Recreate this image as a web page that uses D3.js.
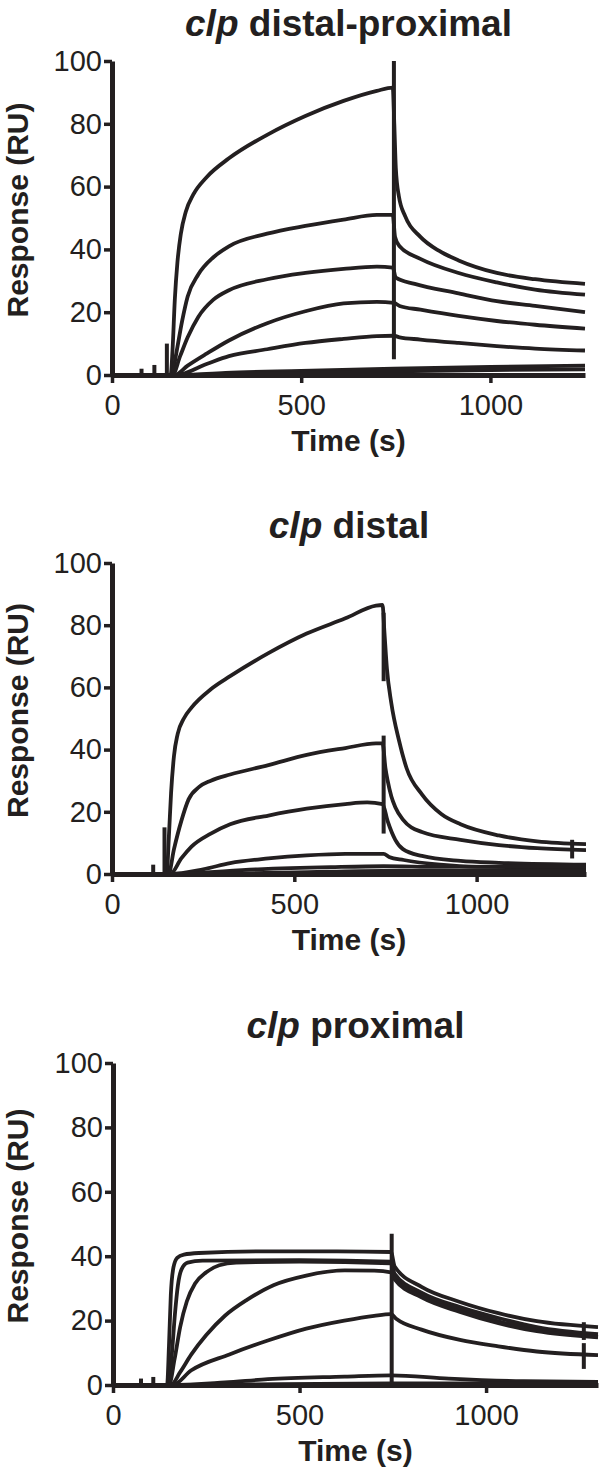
<!DOCTYPE html>
<html>
<head>
<meta charset="utf-8">
<script src="https://cdn.jsdelivr.net/npm/d3@7"></script>
<style>
body { margin: 0; background: #fff; }
svg { display: block; }
text { font-family: "Liberation Sans", Arial, Helvetica, sans-serif; fill: #231f20; }
</style>
</head>
<body>
<script>
// ticks and titles shared by the three panels
var timeTicks = [0, 500, 1000];
var responseTicks = [0, 20, 40, 60, 80, 100];
var panelTitles = ["distal-proximal", "distal", "proximal"];
var timeMax = [1250, 1300, 1300];

// sensorgrams, [time (s), response (RU)]
var distalProximal = [
  [[0,0],[155,0],[160,8],[166,24],[173,36],[182,45],[195,52],[215,57.5],[250,63],[309,69],[410,76.5],[511,82.5],[612,87.3],[700,90.5],[742,91.5],[746,80],[750,66],[758,57],[775,50.5],[815,44],[865,39.5],[916,36.5],[1017,32.5],[1118,30.5],[1250,29]],
  [[0,0],[158,0],[170,7],[185,17],[200,25],[228,32],[268,37.5],[309,41],[410,45],[511,47.5],[612,49.5],[700,51],[742,51],[748,44],[760,41],[815,37],[916,32.5],[1017,29.5],[1118,27.2],[1250,25.6]],
  [[0,0],[160,0],[180,6],[200,12],[228,18.5],[268,24],[309,27],[410,30.5],[511,32.5],[612,33.8],[700,34.5],[742,34.2],[750,31],[800,29],[916,26],[1017,23.5],[1118,22],[1250,20]],
  [[0,0],[165,0],[200,3],[250,6.8],[309,11],[410,16.5],[511,20.3],[612,22.8],[700,23.3],[745,23],[760,22],[815,20.8],[916,18.8],[1017,17.2],[1118,16],[1250,14.8]],
  [[0,0],[170,0],[250,3.5],[309,6],[410,8.2],[511,10.2],[612,11.5],[700,12.4],[745,12.5],[760,12],[815,11.3],[916,10.2],[1017,9.2],[1118,8.4],[1250,7.8]],
  [[0,0],[170,0],[300,0.7],[500,1.3],[745,2],[1000,2.6],[1250,3]],
  [[0,0],[170,0],[500,0.7],[745,1.2],[1000,1.6],[1250,1.8]]
];
// injection artefacts, [time, from, to]
var distalProximalSpikes = [[2,0,3],[78,0,2],[112,0,3.2],[145,0,10],[745,5,100]];

var distal = [
  [[0,0],[150,0],[156,12],[162,26],[170,38],[180,45],[197,50],[218,53.5],[271,59.4],[324,63.6],[429,71],[534,77.3],[640,82.2],[724,86.3],[742,86.5],[747,78],[754,66],[766,55],[787,43],[808,34],[850,25.6],[903,19.3],[956,16],[1061,12.4],[1166,10.5],[1300,9.6]],
  [[0,0],[155,0],[170,8],[190,17],[210,24],[239,28],[271,30],[324,32],[429,35],[534,38.3],[640,40.5],[724,42],[742,42],[750,34],[756,30],[766,25],[777,21.5],[798,17.5],[850,13.5],[956,11],[1061,9.3],[1166,8.3],[1300,7.7]],
  [[0,0],[160,0],[190,5],[218,8.8],[271,13],[324,16],[429,18.8],[534,21],[640,22.5],[700,23],[742,22.5],[756,17],[777,11],[798,8],[850,5.8],[956,4.2],[1061,3.6],[1300,3]],
  [[0,0],[160,0],[250,1.5],[324,3.5],[429,5],[534,6],[640,6.5],[745,6.5],[760,5.5],[800,4.5],[900,3],[1000,2.3],[1300,2]],
  [[0,0],[160,0],[400,1.5],[600,2.2],[745,2.5],[900,2.3],[1300,2.5]],
  [[0,0],[160,0],[500,0.5],[745,1],[1000,1],[1300,1.2]]
];
var distalSpikes = [[0,0,12],[113,0,3],[144,0,15],[745,13,44.5],[745,62,84],[1262,5,11]];

var proximal = [
  [[0,0],[145,0],[150,12],[155,28],[162,36.5],[172,39.5],[190,40.5],[230,41],[400,41.5],[600,41.5],[745,41.3],[755,36.8],[827,30.5],[930,25.8],[1033,22.3],[1136,19.8],[1300,18]],
  [[0,0],[148,0],[158,10],[166,22],[174,31],[184,36],[200,38],[240,38.6],[500,38.8],[745,38.3],[755,34.5],[827,28.7],[930,24.2],[1033,20.8],[1136,18],[1300,15.8]],
  [[0,0],[150,0],[165,8],[180,18],[198,26],[220,31.5],[250,35],[285,37.2],[330,38],[500,38.3],[745,37.8],[755,33.5],[827,27.8],[930,23.3],[1033,19.8],[1136,17.2],[1300,15]],
  [[0,0],[155,0],[180,4],[210,9.5],[250,15.5],[300,21.5],[360,26.5],[430,31],[518,34],[621,35.6],[700,35.5],[745,35],[755,32.8],[827,27.2],[930,22.7],[1033,19.2],[1136,16.7],[1300,14.8]],
  [[0,0],[160,0],[209,4.5],[312,9.5],[415,13.8],[518,17.5],[620,20],[700,21.5],[745,22],[760,20.5],[827,17.2],[930,14],[1033,12],[1136,10.4],[1300,9.3]],
  [[0,0],[160,0],[300,0.8],[415,1.8],[621,2.6],[745,3],[900,2],[1100,1.2],[1300,1]],
  [[0,0],[160,0],[745,0.5],[1300,0.5]]
];
var proximalSpikes = [[75,0,2],[108,0,2.5],[747,0,47],[1262,14,19.5],[1262,5,13]];

var ink = "#231f20";

// where each panel sits on the page
var layout = [
  {top: 61, bottom: 375, left: 112, right: 585},
  {top: 563, bottom: 874, left: 112, right: 586},
  {top: 1063, bottom: 1385, left: 113, right: 598}
];

var svg = d3.select("body").append("svg")
  .attr("width", 600)
  .attr("height", 1474);

function drawPanel(i, curves, spikes) {
  var box = layout[i];

  var x = d3.scaleLinear().domain([0, timeMax[i]]).range([box.left, box.right]);
  var y = d3.scaleLinear().domain([0, 100]).range([box.bottom, box.top]);

  var g = svg.append("g");

  var line = d3.line()
    .x(d => x(d[0]))
    .y(d => y(d[1]))
    .curve(d3.curveMonotoneX);

  g.selectAll(".curve")
    .data(curves)
    .enter()
    .append("path")
    .attr("class", "curve")
    .attr("d", line)
    .attr("fill", "none")
    .attr("stroke", ink)
    .attr("stroke-width", 3.8)
    .attr("stroke-linejoin", "round");

  g.selectAll(".spike")
    .data(spikes)
    .enter()
    .append("line")
    .attr("class", "spike")
    .attr("x1", d => x(d[0]))
    .attr("x2", d => x(d[0]))
    .attr("y1", d => y(d[1]))
    .attr("y2", d => y(d[2]))
    .attr("stroke", ink)
    .attr("stroke-width", 4);

  // axes
  var xAxis = d3.axisBottom(x).tickValues(timeTicks).tickFormat(d3.format("d"))
    .tickSize(8).tickSizeOuter(0).tickPadding(11);
  var yAxis = d3.axisLeft(y).tickValues(responseTicks).tickFormat(d3.format("d"))
    .tickSize(8).tickSizeOuter(0).tickPadding(2);

  var gx = g.append("g")
    .attr("transform", "translate(0," + box.bottom + ")")
    .call(xAxis);
  var gy = g.append("g")
    .attr("transform", "translate(" + box.left + ",0)")
    .call(yAxis);

  [gx, gy].forEach(function(a) {
    a.select(".domain").attr("stroke", ink).attr("stroke-width", 5);
    a.selectAll(".tick line").attr("stroke", ink).attr("stroke-width", 3.5);
    a.selectAll(".tick text")
      .attr("fill", ink)
      .style("font-size", "29px")
      .style("font-family", '"Liberation Sans", Arial, sans-serif');
  });

  var cx = (box.left + box.right) / 2;

  // panel title
  var title = g.append("text")
    .attr("x", cx)
    .attr("y", box.top - 25)
    .attr("text-anchor", "middle")
    .style("font-size", "37px")
    .style("font-weight", "bold");
  title.append("tspan").style("font-style", "italic").text("clp");
  title.append("tspan").text(" " + panelTitles[i]);

  // axis titles
  g.append("text")
    .attr("x", cx)
    .attr("y", box.bottom + 76)
    .attr("text-anchor", "middle")
    .style("font-size", "30px")
    .style("font-weight", "bold")
    .text("Time (s)");

  g.append("text")
    .attr("transform", "translate(28," + ((box.top + box.bottom) / 2 - 8) + ") rotate(-90)")
    .attr("text-anchor", "middle")
    .style("font-size", "30px")
    .style("font-weight", "bold")
    .text("Response (RU)");
}

drawPanel(0, distalProximal, distalProximalSpikes);
drawPanel(1, distal, distalSpikes);
drawPanel(2, proximal, proximalSpikes);
</script>
</body>
</html>
